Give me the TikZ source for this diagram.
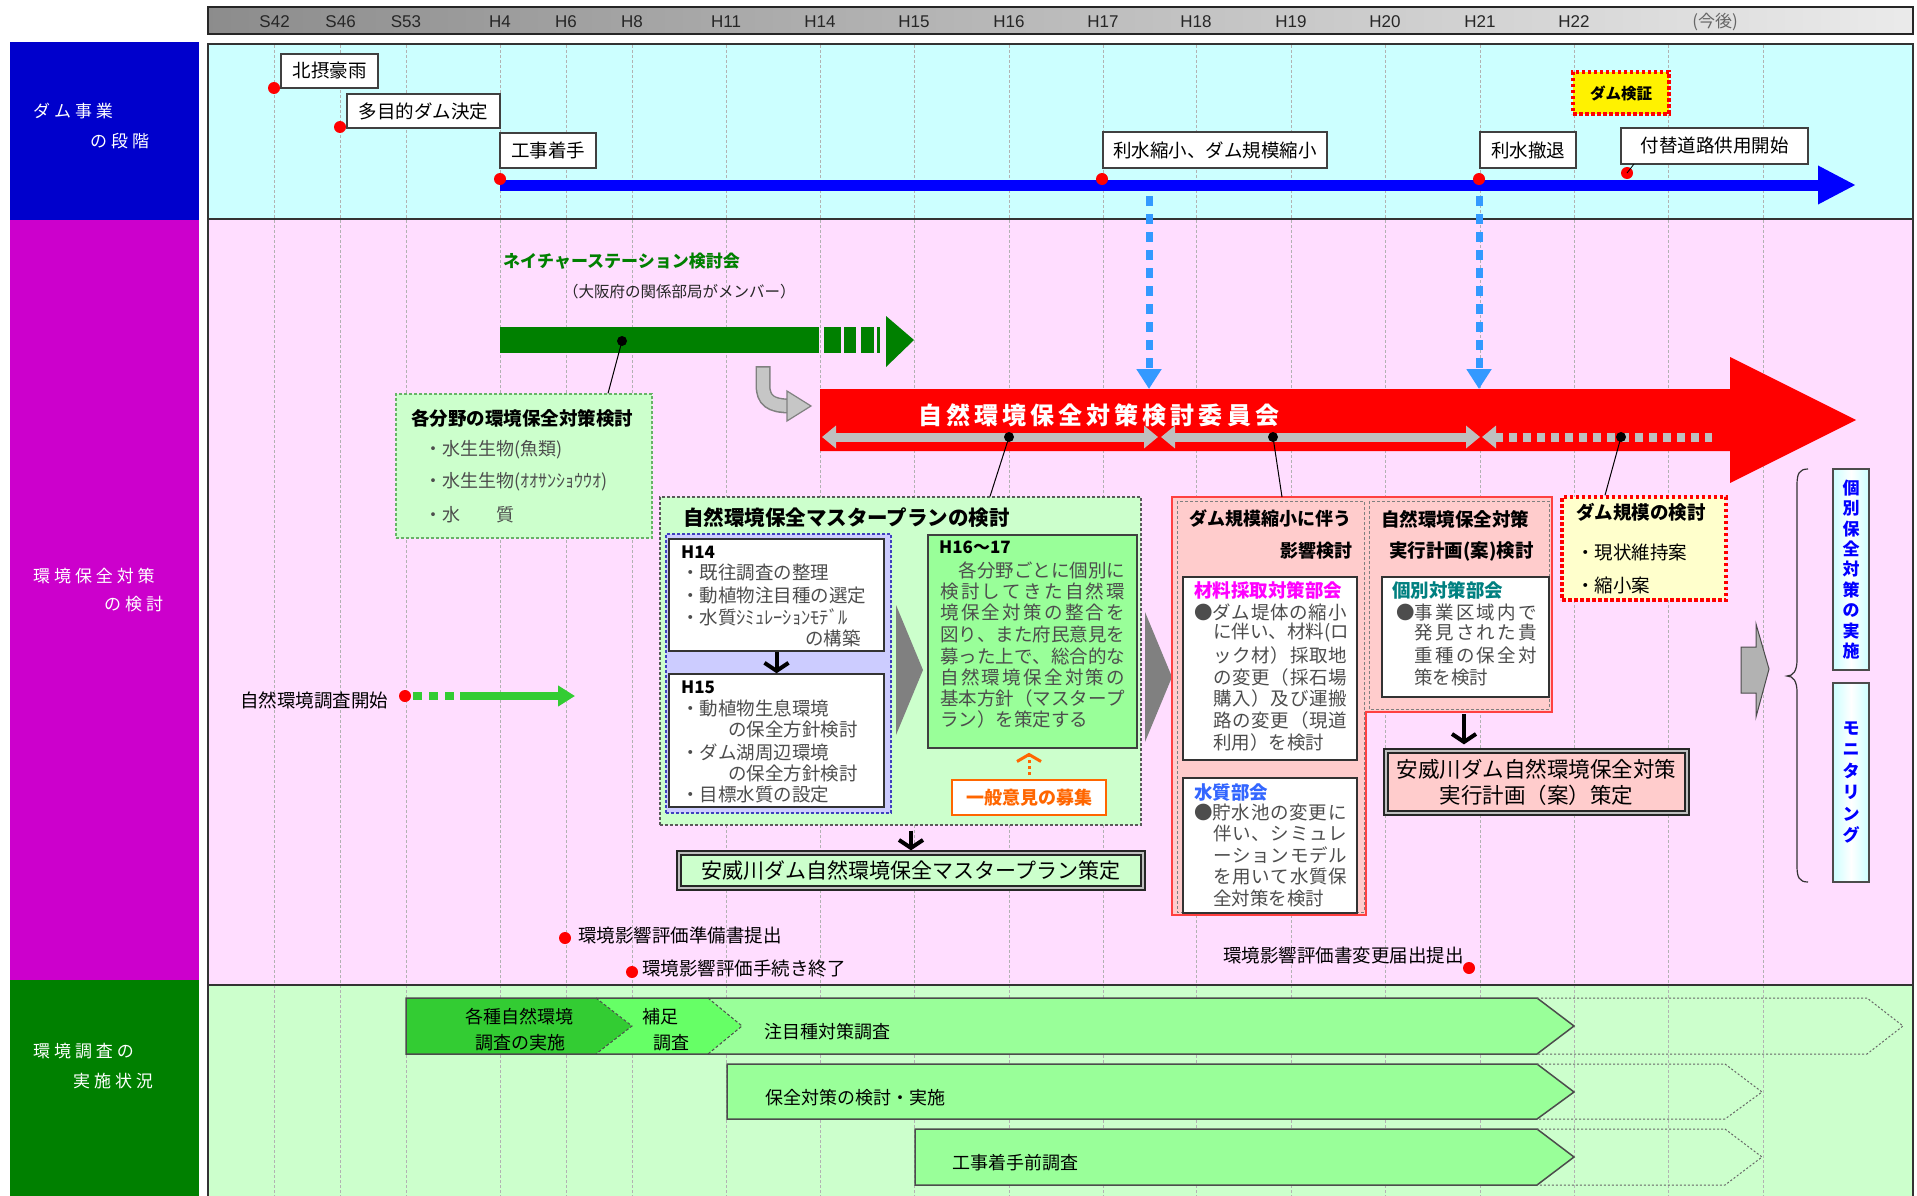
\documentclass[tikz,border=0pt]{standalone}
\usepackage{fontspec}
\setmainfont{Noto Sans CJK JP}
\newfontfamily\latf{Liberation Sans}
\usetikzlibrary{arrows.meta}
\definecolor{sidebl}{HTML}{0000CC}
\definecolor{sidemg}{HTML}{CC00CC}
\definecolor{sidegr}{HTML}{008000}
\definecolor{cyanbg}{HTML}{CCFFFF}
\definecolor{pinkbg}{HTML}{FFDDFF}
\definecolor{greenbg}{HTML}{CCFFCC}
\definecolor{lgreen}{HTML}{99FF99}
\definecolor{mgreen}{HTML}{66FF66}
\definecolor{dgreen}{HTML}{33CC33}
\definecolor{nsgreen}{HTML}{008000}
\definecolor{lav}{HTML}{CCCCFF}
\definecolor{pinkbox}{HTML}{FFCCCC}
\definecolor{yelbox}{HTML}{FFFFCC}
\definecolor{skyb}{HTML}{3399FF}
\definecolor{orng}{HTML}{FF6600}
\definecolor{txg}{HTML}{4D4D4D}
\definecolor{tealt}{HTML}{008080}
\definecolor{magt}{HTML}{FF00FF}
\definecolor{bluet}{HTML}{3366FF}
\definecolor{arrgray}{HTML}{BFBFBF}
\definecolor{blkgray}{HTML}{808080}
\newcommand\fs[1]{\fontsize{#1}{#1}\selectfont}
\def\jloop#1{\ifx#1\relax\unskip\else#1\hfil\expandafter\jloop\fi}
\newcommand\jline[2]{\hbox to #1{\jloop#2\relax}}
\tikzset{
  tx/.style={inner sep=0pt, anchor=west},
  gridln/.style={gray!60, line width=0.6pt, dash pattern=on 3pt off 2pt},
  cbox/.style={draw=black!75, fill=white, line width=1.2pt, inner sep=0pt, font=\fs{18.5}},
  rdot/.style={circle, fill=red, inner sep=0pt, minimum size=12pt},
  bdot/.style={circle, fill=black, inner sep=0pt, minimum size=10pt},
  sidetx/.style={tx, text=white, font=\fs{17}\addfontfeature{LetterSpace=23}},
  yrlab/.style={inner sep=0pt, font=\latf\fs{17}, text=black!85},
  darr/.style={black, line width=4pt, -{Straight Barb[length=8pt,width=24pt]}},
  body/.style={tx, text=txg, font=\fs{18.5}},
  bodyb/.style={tx, text=black, font=\fs{18.5}},
  ttl/.style={tx, font=\fs{18.5}\bfseries},
  wbox/.style={draw=black!80, fill=white, line width=1.5pt, inner sep=0pt},
  rowtx/.style={tx, font=\fs{18}},
  graybar/.style={arrgray, line width=9pt},
  vbox/.style={draw=black!70, line width=1.5pt, left color=cyanbg, right color=cyanbg, middle color=white, inner sep=0pt, minimum width=36pt, text=blue, align=center}
}
\begin{document}
\begin{tikzpicture}[x=1pt,y=-1pt]
\useasboundingbox (0,0) rectangle (1917,1196);
\fill[white] (0,0) rectangle (1917,1196);
% sidebar
\fill[sidebl] (10,42) rectangle (199,220);
\fill[sidemg] (10,220) rectangle (199,980);
\fill[sidegr] (10,980) rectangle (199,1196);
\node[sidetx] (s1a) at (33,111) {ダム事業};
\node[sidetx] (s1b) at (90,141) {の段階};
\node[sidetx] (s2a) at (33,576) {環境保全対策};
\node[sidetx] (s2b) at (104,604) {の検討};
\node[sidetx] (s3a) at (33,1051) {環境調査の};
\node[sidetx] (s3b) at (73,1081) {実施状況};
% header
\shade[left color=black!45, right color=black!8] (208,7) rectangle (1913,34);
\draw[black!85, line width=2pt] (208,7) rectangle (1913,34);
\foreach \xx/\lab in {274.6/S42,340.6/S46,406/S53,500/H4,566/H6,632/H8,726/H11,820/H14,914/H15,1009/H16,1103/H17,1196/H18,1291/H19,1385/H20,1480/H21,1574/H22}
  \node[yrlab] (y\lab) at (\xx,22) {\lab};
\node[inner sep=0pt, font=\fs{17}, text=black!60] (ykongo) at (1715,22) {(今後)};
% panels
\fill[cyanbg] (208,44) rectangle (1913,219);
\fill[pinkbg] (208,219) rectangle (1913,985);
\fill[greenbg] (208,985) rectangle (1913,1196);
\foreach \xx in {274.6,340.6,406,500,566,632,726,820,914,1009,1103,1196,1291,1385,1480,1574,1668,1763}
  \draw[gridln] (\xx,45) -- (\xx,1196);
\draw[black!80, line width=1.5pt] (208,44) rectangle (1913,219);
\draw[black!80, line width=1.5pt] (208,219) rectangle (1913,985);
\draw[black!80, line width=1.5pt] (208,1196) -- (208,985) -- (1913,985) -- (1913,1196);

% ===== dam stages =====
\coordinate (ba0) at (500,185);
\coordinate (ba1) at (1856,185);
\draw[blue, line width=11pt, -{Triangle[length=38pt,width=36pt]}] (ba0) -- (ba1);
\node[cbox, minimum width=97pt, minimum height=34pt] (hokusetsu) at (329.5,71) {北摂豪雨};
\node[cbox, minimum width=153pt, minimum height=34pt] (tamokuteki) at (423.5,111) {多目的ダム決定};
\node[cbox, minimum width=96pt, minimum height=35pt] (chakushu) at (548,150.5) {工事着手};
\node[cbox, minimum width=224pt, minimum height=36pt] (risui1) at (1215,150) {利水縮小、ダム規模縮小};
\node[cbox, minimum width=96pt, minimum height=36pt] (risui2) at (1528,150) {利水撤退};
\node[cbox, minimum width=187pt, minimum height=36pt] (tsukekae) at (1714.5,146) {付替道路供用開始};
\node[draw=red, dash pattern=on 3.5pt off 2.5pt, line width=3.5pt, fill=yellow, minimum width=96pt, minimum height=42pt, inner sep=0pt, font=\fs{15.5}\bfseries] (kensho) at (1621,93) {ダム検証};
\node[rdot] (d1) at (274,88) {};
\node[rdot] (d2) at (340,127) {};
\node[rdot] (d3) at (500,179) {};
\node[rdot] (d4) at (1102,179) {};
\node[rdot] (d5) at (1479,179) {};
\node[rdot] (d6) at (1627,173) {};
\coordinate (tk) at (1634,164);
\draw[line width=0.8pt] (d6.center) -- (tk);
% blue dashed arrows
\coordinate (bd1s) at (1149,196);
\coordinate (bd1e) at (1149,389);
\coordinate (bd2s) at (1479,196);
\coordinate (bd2e) at (1479,389);
\draw[skyb, line width=7pt, dash pattern=on 10pt off 8pt, -{Triangle[length=20pt,width=24pt]}] (bd1s) -- (bd1e);
\draw[skyb, line width=7pt, dash pattern=on 10pt off 8pt, -{Triangle[length=20pt,width=24pt]}] (bd2s) -- (bd2e);

% ===== nature station =====
\node[tx, font=\fs{17}\bfseries, text=nsgreen] (nstitle) at (503,261) {ネイチャーステーション検討会};
\node[tx, font=\fs{15.5}, text=black!85] (nssub) at (563,292) {（大阪府の関係部局がメンバー）};
\fill[nsgreen] (500,327) rectangle (819,353);
\fill[nsgreen] (824,327) rectangle (841,353);
\fill[nsgreen] (844,327) rectangle (856,353);
\fill[nsgreen] (861,327) rectangle (874,353);
\fill[nsgreen] (877,327) rectangle (880,353);
\fill[nsgreen] (886,316) -- (914,340) -- (886,367) -- cycle;
\node[bdot] (nsdot) at (622,341) {};
\node[draw=nsgreen!60, dash pattern=on 3pt off 2pt, line width=1.2pt, fill=greenbg, minimum width=256pt, minimum height=144pt, inner sep=0pt] (kb) at (524,466) {};
\draw[line width=1pt] (nsdot.center) -- (kb.north -| 608,0);
\node[ttl] (kbt) at (411,418) {各分野の環境保全対策検討};
\node[body, font=\fs{18}] (kb1) at (424,450) {・水生生物(魚類)};
\node[body, font=\fs{18}] (kb2) at (424,482) {・水生生物(ｵｵｻﾝｼｮｳｳｵ)};
\node[body, font=\fs{18}] (kb3) at (424,515) {・水　　質};

% U-turn arrow
\draw[draw=blkgray, line width=15pt] (763,366) -- (763,385) .. controls (763,400) and (770,406) .. (790,406);
\draw[draw=gray!45, line width=12pt] (763,367.5) -- (763,385) .. controls (763,400) and (770,406) .. (791,406);
\filldraw[fill=gray!45, draw=blkgray, line width=1.2pt] (787,391) -- (811,406) -- (787,421) -- cycle;

% ===== red committee arrow =====
\fill[red] (820,389) -- (1730,389) -- (1730,357) -- (1856,420) -- (1730,483) -- (1730,451) -- (820,451) -- cycle;
\node[tx, text=white, font=\fs{24}\bfseries\addfontfeature{LetterSpace=17}] (iinkai) at (918,415) {自然環境保全対策検討委員会};
\coordinate (g1a) at (822,437);
\coordinate (g1b) at (1158,437);
\coordinate (g2a) at (1161,437);
\coordinate (g2b) at (1480,437);
\coordinate (g3a) at (1482,437);
\coordinate (g3b) at (1712,437);
\draw[graybar, {Triangle[length=14pt,width=22pt]}-{Triangle[length=14pt,width=22pt]}] (g1a) -- (g1b);
\draw[graybar, {Triangle[length=14pt,width=22pt]}-{Triangle[length=14pt,width=22pt]}] (g2a) -- (g2b);
\draw[graybar, dash pattern=on 8pt off 6pt, {Triangle[length=14pt,width=22pt]}-] (g3a) -- (g3b);
\node[bdot] (rd1) at (1009,437) {};
\node[bdot] (rd2) at (1273,437) {};
\node[bdot] (rd3) at (1621,437) {};

% ===== master plan =====
\node[draw=black!65, dash pattern=on 3pt off 2pt, line width=1.2pt, fill=greenbg, minimum width=481pt, minimum height=328pt, inner sep=0pt] (mp) at (900.5,661) {};
\draw[line width=1pt] (rd1.center) -- (mp.north -| 990,0);
\node[tx, font=\fs{20.5}\bfseries] (mptitle) at (683,518) {自然環境保全マスタープランの検討};
\node[draw=blue!50!gray, dash pattern=on 3pt off 2pt, line width=1.2pt, fill=lav, minimum width=225pt, minimum height=279pt, inner sep=0pt] (lavb) at (778.5,673.5) {};
\node[wbox, minimum width=215pt, minimum height=112pt] (h14) at (776.5,595) {};
\node[wbox, minimum width=215pt, minimum height=133pt] (h15) at (776.5,740.5) {};
\draw[darr] (h14.south) -- (h15.north);
\node[tx, font=\fs{17}\bfseries] (h14t) at (681,552) {H14};
\node[body] (h14a) at (681,573) {・既往調査の整理};
\node[body] (h14b) at (681,595) {・動植物注目種の選定};
\node[body] (h14c) at (681,617) {・水質ｼﾐｭﾚｰｼｮﾝﾓﾃﾞﾙ};
\node[body] (h14d) at (805,638) {の構築};
\node[tx, font=\fs{17}\bfseries] (h15t) at (681,687) {H15};
\node[body] (h15a) at (681,708) {・動植物生息環境};
\node[body] (h15b) at (728,729) {の保全方針検討};
\node[body] (h15c) at (681,752) {・ダム湖周辺環境};
\node[body] (h15d) at (728,773) {の保全方針検討};
\node[body] (h15e) at (681,795) {・目標水質の設定};
\fill[blkgray] (896,605) -- (923,670) -- (896,735) -- cycle;
\node[draw=black!75, line width=1.5pt, fill=lgreen, minimum width=209pt, minimum height=213pt, inner sep=0pt] (h16) at (1032.5,641.5) {};
\node[tx, font=\fs{17}\bfseries] (h16t) at (939,547) {H16～17};
\node[body] (p1) at (940,570) {\jline{185pt}{　各分野ごとに個別に}};
\node[body] (p2) at (940,591) {\jline{185pt}{検討してきた自然環}};
\node[body] (p3) at (940,612) {\jline{185pt}{境保全対策の整合を}};
\node[body] (p4) at (940,634) {\jline{185pt}{図り、また府民意見を}};
\node[body] (p5) at (940,656) {\jline{185pt}{募った上で、総合的な}};
\node[body] (p6) at (940,677) {\jline{185pt}{自然環境保全対策の}};
\node[body] (p7) at (940,698) {\jline{185pt}{基本方針（マスタープ}};
\node[body] (p8) at (940,719) {ラン）を策定する};
\node[draw=orng, line width=1.5pt, fill=white, minimum width=154pt, minimum height=35pt, inner sep=0pt, text=orng, font=\fs{18}\bfseries] (ippan) at (1029,797.5) {一般意見の募集};
\draw[orng, line width=3pt, dash pattern=on 3pt off 3pt, -{Straight Barb[length=7pt,width=24pt]}, shorten <=4pt, shorten >=4pt] (ippan.north) -- (ippan.north |- h16.south);
\node[draw=black!85, line width=1.3pt, double=gray!50, double distance=2.5pt, fill=greenbg, minimum width=464pt, minimum height=35pt, inner sep=0pt, font=\fs{21}] (mpfinal) at (911,870.5) {安威川ダム自然環境保全マスタープラン策定};
\draw[darr, shorten <=5pt, shorten >=2pt] (mp.south -| mpfinal.north) -- (mpfinal.north);

% ===== dam scale-down region =====
\fill[blkgray] (1145,612) -- (1172,677) -- (1145,742) -- cycle;
\filldraw[fill=pinkbox, draw=red!75, line width=1.5pt] (1172,497) -- (1552,497) -- (1552,712) -- (1366,712) -- (1366,915) -- (1172,915) -- cycle;
\coordinate (rrtop) at (1282,497);
\draw[line width=1pt] (rd2.center) -- (rrtop);
\draw[gray, line width=1pt, dash pattern=on 3pt off 2pt] (1177,501) rectangle (1364,912);
\draw[gray, line width=1pt, dash pattern=on 3pt off 2pt] (1369,501) rectangle (1549,709);
\node[ttl, font=\fs{18}\bfseries] (rt1) at (1189,519) {ダム規模縮小に伴う};
\node[ttl, font=\fs{18}\bfseries, anchor=east] (rt2) at (1353,551) {影響検討};
\node[ttl] (rt3) at (1381,519) {自然環境保全対策};
\node[ttl] (rt4) at (1389,551) {実行計画(案)検討};
\node[wbox, line width=1.3pt, minimum width=174pt, minimum height=183pt] (zairyo) at (1270,668.5) {};
\node[wbox, line width=1.3pt, minimum width=174pt, minimum height=135pt] (suishitsu) at (1270,845.5) {};
\node[wbox, line width=1.3pt, minimum width=167pt, minimum height=120pt] (kobetsu) at (1465.5,637) {};
\node[ttl, text=magt] (zt) at (1194,590) {材料採取対策部会};
\node[body] (z1) at (1194,612) {●\jline{134pt}{ダム堤体の縮小}};
\node[body] (z2) at (1213,633) {\jline{134pt}{に伴い、材料(ロ}};
\node[body] (z3) at (1213,655) {\jline{134pt}{ック材）採取地}};
\node[body] (z4) at (1213,677) {\jline{134pt}{の変更（採石場}};
\node[body] (z5) at (1213,698) {\jline{134pt}{購入）及び運搬}};
\node[body] (z6) at (1213,720) {\jline{134pt}{路の変更（現道}};
\node[body] (z7) at (1213,742) {利用）を検討};
\node[ttl, text=bluet] (st) at (1194,792) {水質部会};
\node[body] (s1) at (1194,812) {●\jline{134pt}{貯水池の変更に}};
\node[body] (s2) at (1213,833) {\jline{134pt}{伴い、シミュレ}};
\node[body] (s3) at (1213,855) {\jline{134pt}{ーションモデル}};
\node[body] (s4) at (1213,877) {\jline{134pt}{を用いて水質保}};
\node[body] (s5) at (1213,898) {全対策を検討};
\node[ttl, text=tealt] (kt) at (1392,590) {個別対策部会};
\node[body] (k1) at (1396,612) {●\jline{122pt}{事業区域内で}};
\node[body] (k2) at (1414,633) {\jline{123pt}{発見された貴}};
\node[body] (k3) at (1414,655) {\jline{123pt}{重種の保全対}};
\node[body] (k4) at (1414,677) {策を検討};
\node[draw=black!85, line width=1.3pt, double=gray!50, double distance=2.5pt, fill=pinkbox, minimum width=301pt, minimum height=62pt, inner sep=0pt, align=center, font=\fontsize{21.5}{26}\selectfont] (rrfinal) at (1536.5,782) {安威川ダム自然環境保全対策\\実行計画（案）策定};
\coordinate (rrb) at (1464,714);
\draw[darr, shorten >=6pt] (rrb) -- (rrb |- rrfinal.north);

% ===== dam scale study =====
\node[draw=red, dash pattern=on 3.5pt off 2.5pt, line width=3.5pt, fill=yelbox, minimum width=164pt, minimum height=103pt, inner sep=0pt] (kibo) at (1644,548.5) {};
\draw[line width=1pt] (rd3.center) -- (kibo.north -| 1605,0);
\node[ttl] (kbot) at (1576,512) {ダム規模の検討};
\node[bodyb] (kbo1) at (1576,553) {・現状維持案};
\node[bodyb] (kbo2) at (1576,585) {・縮小案};

% ===== implementation =====
\filldraw[fill=gray!60, draw=black!70, line width=1pt] (1741,647) -- (1756,647) -- (1756,624) -- (1769,669) -- (1756,717) -- (1756,693) -- (1741,693) -- cycle;
\draw[line width=1.2pt, black!80] (1808,469) .. controls (1799,469) and (1797,474) .. (1797,485) -- (1797,660) .. controls (1797,671) and (1793,676) .. (1787,676) .. controls (1793,676) and (1797,681) .. (1797,692) -- (1797,866) .. controls (1797,877) and (1799,882) .. (1808,882);
\node[vbox, minimum height=201pt, font=\fontsize{17}{20.4}\selectfont\bfseries] (kobetsujisshi) at (1851,569.5) {個\\別\\保\\全\\対\\策\\の\\実\\施};
\node[vbox, minimum height=199pt, font=\fontsize{17}{21.4}\selectfont\bfseries] (monitoring) at (1851,782.5) {モ\\ニ\\タ\\リ\\ン\\グ};

% ===== survey start and EIA events =====
\node[tx, font=\fs{18.5}] (chosakaishi) at (240,700) {自然環境調査開始};
\node[rdot] (dcs) at (405,696) {};
\coordinate (ga0) at (413,696);
\coordinate (ga1) at (455,696);
\coordinate (ga2) at (460,696);
\coordinate (ga3) at (575,696);
\draw[dgreen, line width=8pt, dash pattern=on 9pt off 7pt] (ga0) -- (ga1);
\draw[dgreen, line width=8pt, -{Triangle[length=17pt,width=20pt]}] (ga2) -- (ga3);
\node[rdot] (de1) at (565,938) {};
\node[tx, font=\fs{18.5}] (e1) at (578,935) {環境影響評価準備書提出};
\node[rdot] (de2) at (632,972) {};
\node[tx, font=\fs{18.5}] (e2) at (642,968) {環境影響評価手続き終了};
\node[rdot] (de3) at (1469,968) {};
\node[tx, anchor=east, font=\fs{18.5}] (e3) at (1464,955) {環境影響評価書変更届出提出};

% ===== survey rows =====
\fill[dgreen] (406,998) -- (596,998) -- (632,1026) -- (596,1054) -- (406,1054) -- cycle;
\fill[mgreen] (596,998) -- (708,998) -- (742,1026) -- (708,1054) -- (596,1054) -- (632,1026) -- cycle;
\fill[lgreen] (708,998) -- (1537,998) -- (1574,1026) -- (1537,1054) -- (708,1054) -- (742,1026) -- cycle;
\draw[black!70, line width=1.5pt] (406,998) -- (1537,998) -- (1574,1026) -- (1537,1054) -- (406,1054) -- cycle;
\draw[black!70, line width=1pt, dash pattern=on 3pt off 2pt] (596,998) -- (632,1026) -- (596,1054);
\draw[black!70, line width=1pt, dash pattern=on 3pt off 2pt] (708,998) -- (742,1026) -- (708,1054);
\draw[black!60, line width=1pt, dash pattern=on 2pt off 2pt] (1537,998) -- (1867,998) -- (1903,1026) -- (1867,1054) -- (1537,1054);
\node[inner sep=0pt, font=\fs{18}] (r1a) at (519,1017) {各種自然環境};
\node[inner sep=0pt, font=\fs{18}] (r1b) at (520,1043) {調査の実施};
\node[rowtx] (r1c) at (642,1017) {補足};
\node[rowtx] (r1d) at (653,1043) {調査};
\node[rowtx] (r1e) at (764,1032) {注目種対策調査};
\filldraw[fill=lgreen, draw=black!70, line width=1.5pt] (727,1064) -- (1537,1064) -- (1574,1092) -- (1537,1119) -- (727,1119) -- cycle;
\draw[black!60, line width=1pt, dash pattern=on 2pt off 2pt] (1537,1064) -- (1725,1064) -- (1762,1092) -- (1725,1119) -- (1537,1119);
\node[rowtx] (r2) at (765,1098) {保全対策の検討・実施};
\filldraw[fill=lgreen, draw=black!70, line width=1.5pt] (915,1129) -- (1537,1129) -- (1574,1157) -- (1537,1185) -- (915,1185) -- cycle;
\draw[black!60, line width=1pt, dash pattern=on 2pt off 2pt] (1537,1129) -- (1725,1129) -- (1762,1157) -- (1725,1185) -- (1537,1185);
\node[rowtx] (r3) at (952,1163) {工事着手前調査};
\end{tikzpicture}
\end{document}
